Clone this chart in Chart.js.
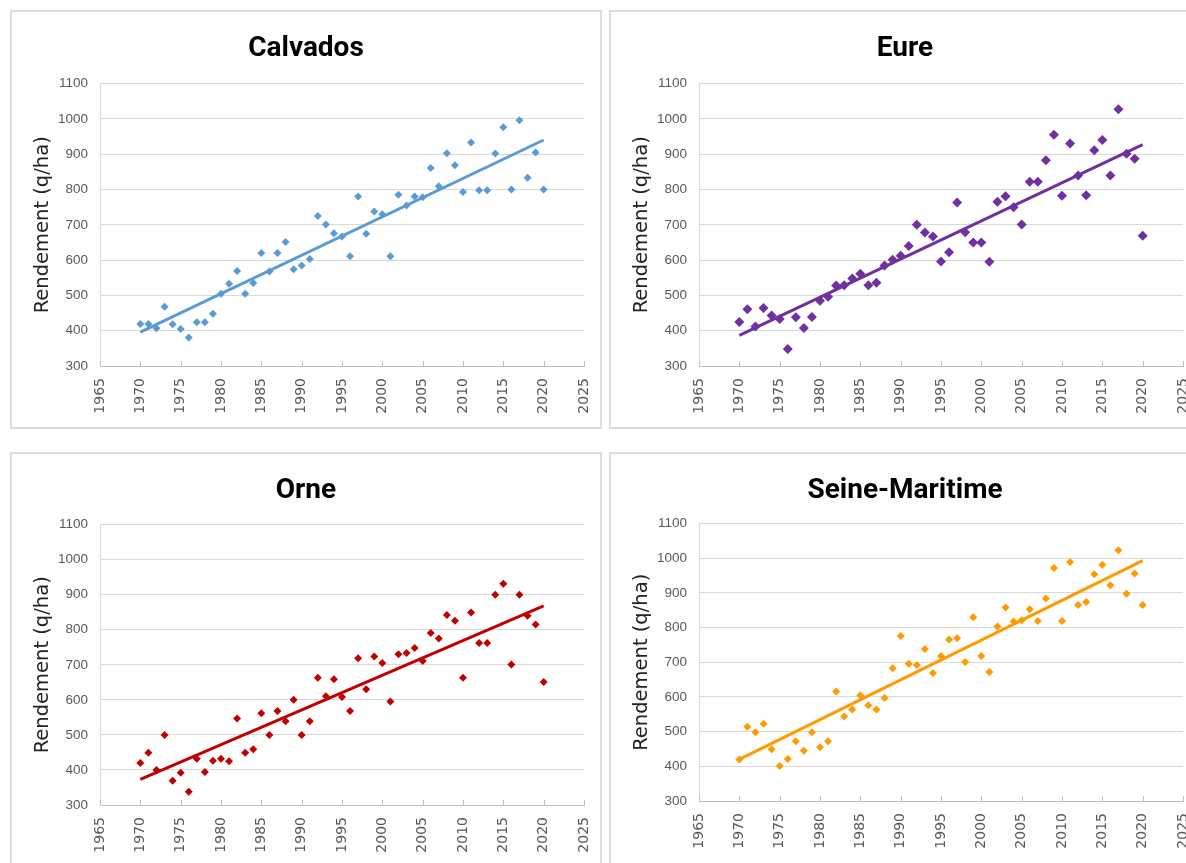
<!DOCTYPE html>
<html>
<head>
<meta charset="utf-8">
<script src="https://cdn.jsdelivr.net/npm/chart.js@4.4.0/dist/chart.umd.js"></script>
<style>
  html, body { margin: 0; padding: 0; background: #fff; width: 1186px; height: 863px; overflow: hidden; }
  .panel { position: absolute; width: 592px; height: 419px; box-sizing: border-box; border: 2px solid #dcdcdc; background: #fff; }
  .panel canvas { display: block; }
</style>
</head>
<body>
<div class="panel" style="left:10px;top:10px"><canvas id="calvados" width="588" height="415"></canvas></div>
<div class="panel" style="left:609px;top:10px"><canvas id="eure" width="588" height="415"></canvas></div>
<div class="panel" style="left:10px;top:452px"><canvas id="orne" width="588" height="415"></canvas></div>
<div class="panel" style="left:609px;top:452px"><canvas id="seine" width="588" height="415"></canvas></div>
<script>
// années et rendements (q/ha)
const years = [1970, 1971, 1972, 1973, 1974, 1975, 1976, 1977, 1978, 1979,
  1980, 1981, 1982, 1983, 1984, 1985, 1986, 1987, 1988, 1989,
  1990, 1991, 1992, 1993, 1994, 1995, 1996, 1997, 1998, 1999,
  2000, 2001, 2002, 2003, 2004, 2005, 2006, 2007, 2008, 2009,
  2010, 2011, 2012, 2013, 2014, 2015, 2016, 2017, 2018, 2019, 2020];

const calvados = [419, 419, 407, 468, 418, 405, 381, 424, 424, 448,
  505, 533, 569, 505, 535, 620, 568, 620, 651, 574,
  585, 603, 725, 701, 676, 667, 611, 780, 675, 738,
  730, 611, 785, 755, 780, 778, 861, 809, 903, 869,
  793, 933, 798, 798, 902, 976, 800, 996, 833, 905, 800];

const eure = [425, 461, 412, 464, 443, 433, 348, 438, 408, 439,
  485, 496, 528, 529, 548, 561, 529, 536, 585, 601,
  612, 640, 700, 678, 667, 596, 622, 763, 679, 650,
  650, 595, 765, 781, 750, 701, 822, 822, 883, 955,
  782, 930, 840, 784, 911, 940, 840, 1027, 901, 887, 669];

const orne = [420, 449, 400, 500, 369, 392, 338, 432, 394, 426,
  432, 425, 547, 449, 459, 562, 500, 568, 539, 600,
  500, 539, 663, 610, 659, 608, 568, 719, 630, 724,
  705, 595, 730, 734, 748, 711, 791, 775, 842, 826,
  663, 849, 762, 762, 900, 931, 701, 900, 840, 815, 651];

const seineMaritime = [420, 514, 498, 523, 449, 401, 421, 472, 445, 498,
  455, 472, 616, 544, 564, 605, 576, 564, 597, 683,
  776, 696, 692, 738, 669, 718, 766, 769, 701, 830,
  718, 672, 803, 858, 818, 821, 853, 819, 884, 972,
  819, 989, 865, 874, 954, 981, 922, 1023, 898, 956, 865];

const xTicks = [1965, 1970, 1975, 1980, 1985, 1990, 1995, 2000, 2005, 2010, 2015, 2020, 2025];
const yTicks = [300, 400, 500, 600, 700, 800, 900, 1000, 1100];

// droite de tendance (moindres carrés, comme Excel)
function linearFit(xs, ys) {
  const n = xs.length;
  let sx = 0, sy = 0, sxx = 0, sxy = 0;
  for (let i = 0; i < n; i++) {
    sx += xs[i]; sy += ys[i]; sxx += xs[i] * xs[i]; sxy += xs[i] * ys[i];
  }
  const slope = (n * sxy - sx * sy) / (n * sxx - sx * sx);
  const intercept = (sy - slope * sx) / n;
  return x => intercept + slope * x;
}

// petites graduations vers l'intérieur sur l'axe des x
const innerTicks = {
  id: 'innerTicks',
  beforeDatasetsDraw(chart) {
    const sx = chart.scales.x;
    const bottom = chart.chartArea.bottom;
    const ctx = chart.ctx;
    ctx.save();
    ctx.strokeStyle = '#bfbfbf';
    ctx.lineWidth = 1;
    xTicks.forEach(v => {
      const px = Math.round(sx.getPixelForValue(v)) + 0.5;
      ctx.beginPath();
      ctx.moveTo(px, bottom - 5);
      ctx.lineTo(px, bottom);
      ctx.stroke();
    });
    ctx.restore();
  }
};

function makeChart(id, title, values, color, radius, plotTop, plotBottom) {
  const trend = linearFit(years, values);
  const canvas = document.getElementById(id);
  const h = canvas.height;
  new Chart(canvas, {
    type: 'scatter',
    data: {
      datasets: [
        {
          type: 'line',
          data: [years[0], years[years.length - 1]].map(x => ({ x, y: trend(x) })),
          borderColor: color,
          borderWidth: 3,
          pointRadius: 0,
          fill: false
        },
        {
          data: years.map((x, i) => ({ x, y: values[i] })),
          pointStyle: 'rectRot',
          pointRadius: radius,
          backgroundColor: color,
          borderColor: color,
          borderWidth: 0
        }
      ]
    },
    options: {
      responsive: false,
      animation: false,
      layout: { padding: { left: 16, right: 16, top: 0, bottom: 0 } },
      plugins: {
        legend: { display: false },
        tooltip: { enabled: false },
        title: {
          display: true,
          text: title,
          color: '#000',
          font: { family: "Roboto, 'DejaVu Sans Condensed', sans-serif", size: 28, weight: 'bold', lineHeight: 1.2 },
          padding: { top: 20, bottom: plotTop - 54 }
        }
      },
      scales: {
        x: {
          type: 'linear',
          min: 1965,
          max: 2025,
          afterBuildTicks: s => { s.ticks = xTicks.map(v => ({ value: v })); },
          afterFit: s => { s.height = h - plotBottom; s.paddingLeft = 0; s.paddingRight = 0; },
          grid: { display: false },
          border: { display: true, color: '#bfbfbf', width: 1 },
          ticks: {
            autoSkip: false,
            minRotation: 90,
            maxRotation: 90,
            padding: 4,
            color: '#595959',
            font: { family: "'DejaVu Sans', sans-serif", size: 14 },
            callback: v => String(v)
          }
        },
        y: {
          min: 300,
          max: 1100,
          afterBuildTicks: s => { s.ticks = yTicks.map(v => ({ value: v })); },
          afterFit: s => { s.width = 72; },
          grid: { color: '#d9d9d9', lineWidth: 1, drawTicks: false },
          border: { display: true, color: '#d9d9d9', width: 1 },
          ticks: {
            padding: 12,
            color: '#595959',
            font: { family: "'Liberation Sans', sans-serif", size: 13.5 },
            callback: v => String(v)
          },
          title: {
            display: true,
            text: 'Rendement (q/ha)',
            color: '#222',
            font: { family: "'DejaVu Sans', sans-serif", size: 19.5, lineHeight: 1.2 },
            padding: { top: 3, bottom: 0 }
          }
        }
      }
    },
    plugins: [innerTicks]
  });
}

makeChart('calvados', 'Calvados', calvados, '#5b9bd5', 4, 72, 354);
makeChart('eure', 'Eure', eure, '#7030a0', 5, 72, 354);
makeChart('orne', 'Orne', orne, '#c00000', 4, 71, 351);
makeChart('seine', 'Seine-Maritime', seineMaritime, '#ff9a00', 4, 70, 347);
</script>
</body>
</html>
